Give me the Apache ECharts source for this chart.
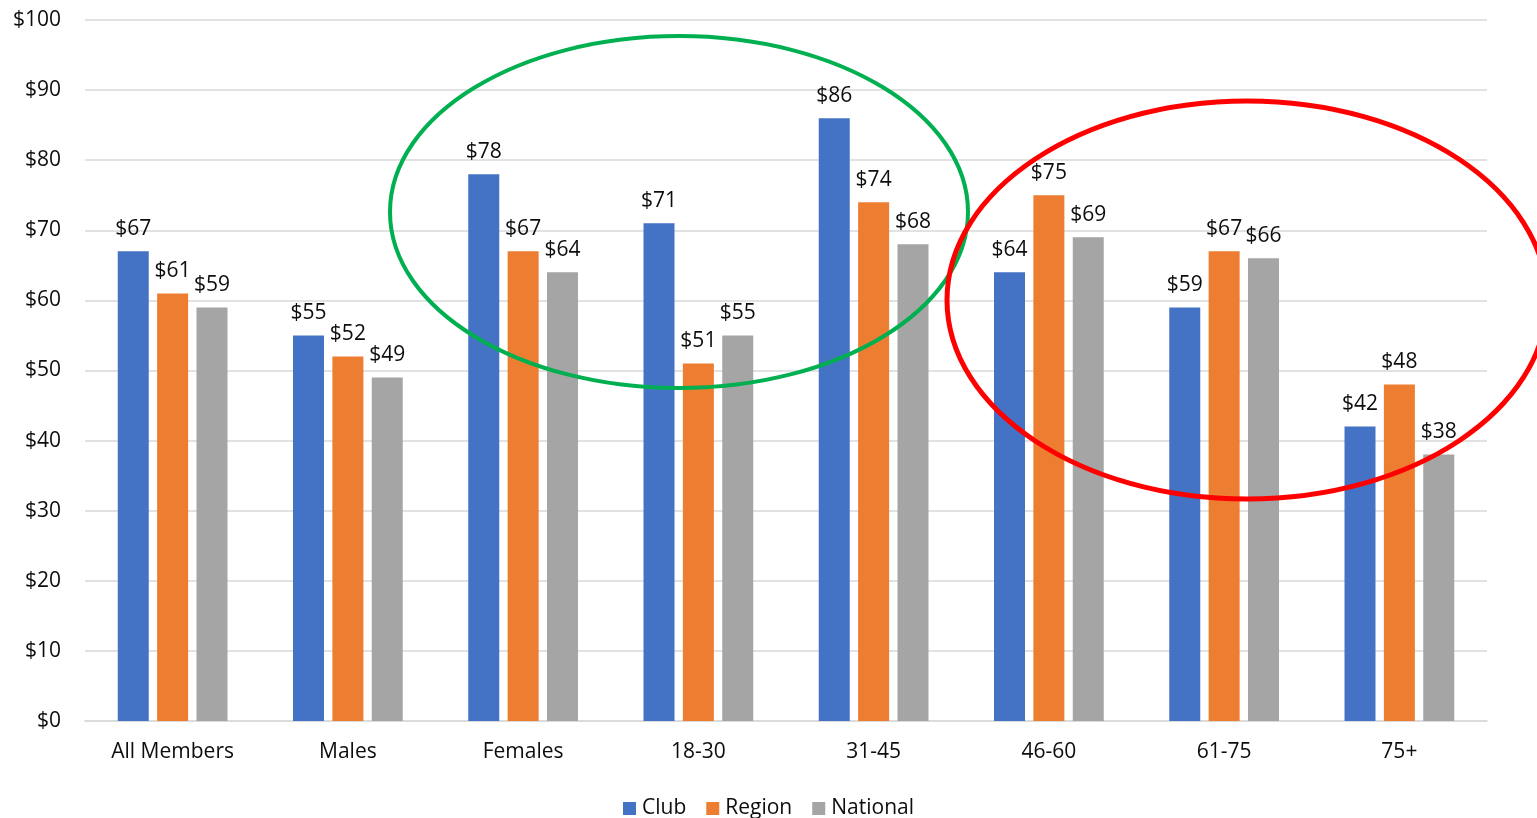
<!DOCTYPE html>
<html>
<head>
<meta charset="utf-8">
<script src="https://cdn.jsdelivr.net/npm/echarts@6/dist/echarts.min.js"></script>
<style>
  html, body { margin: 0; padding: 0; background: #fff; }
  #chart { width: 1537px; height: 818px; }
</style>
</head>
<body>
<div id="chart"></div>
<script>
// Average spend per member, by segment
const categories = ['All Members', 'Males', 'Females', '18-30', '31-45', '46-60', '61-75', '75+'];
const clubValues = [67, 55, 78, 71, 86, 64, 59, 42];
const regionValues = [61, 52, 67, 51, 74, 75, 67, 48];
const nationalValues = [59, 49, 64, 55, 68, 69, 66, 38];
const yTicks = { min: 0, max: 100, interval: 10 };

const FONT = '"Open Sans", "Noto Sans", sans-serif';
const TEXT = '#0d0d0d';
const SIZE = 21;

function barSeries(name, data, color) {
  return {
    name: name,
    type: 'bar',
    data: data,
    barWidth: 31,
    barGap: '27%',
    itemStyle: { color: color },
    label: {
      show: true,
      position: 'top',
      distance: 12,
      formatter: p => '$' + p.value,
      color: TEXT,
      fontFamily: FONT,
      fontSize: SIZE
    },
    emphasis: { disabled: true }
  };
}

const chart = echarts.init(document.getElementById('chart'), null, { renderer: 'canvas' });
chart.setOption({
  animation: false,
  backgroundColor: '#fff',
  grid: { left: 85, right: 50, top: 20, bottom: 97, containLabel: false },
  legend: {
    left: 'center',
    top: 793,
    itemWidth: 13,
    itemHeight: 13,
    itemGap: 20,
    icon: 'rect',
    textStyle: { color: TEXT, fontFamily: FONT, fontSize: SIZE, padding: [0, 0, 0, 1] },
    data: ['Club', 'Region', 'National']
  },
  xAxis: {
    type: 'category',
    data: categories,
    axisTick: { show: false },
    axisLine: { lineStyle: { color: '#D9D9D9', width: 1.5 } },
    axisLabel: { color: TEXT, fontFamily: FONT, fontSize: SIZE, margin: 21 }
  },
  yAxis: {
    type: 'value',
    min: yTicks.min,
    max: yTicks.max,
    interval: yTicks.interval,
    axisLine: { show: false },
    axisTick: { show: false },
    splitLine: { lineStyle: { color: '#D9D9D9', width: 1.5 } },
    axisLabel: { color: TEXT, fontFamily: FONT, fontSize: SIZE, margin: 24, formatter: v => '$' + v }
  },
  series: [
    barSeries('Club', clubValues, '#4472C4'),
    barSeries('Region', regionValues, '#ED7D31'),
    barSeries('National', nationalValues, '#A5A5A5')
  ],
  graphic: [
    {
      type: 'ellipse',
      shape: { cx: 679, cy: 212, rx: 289, ry: 176 },
      style: { fill: 'none', stroke: '#00B050', lineWidth: 4 },
      z: 100
    },
    {
      type: 'ellipse',
      shape: { cx: 1247, cy: 300, rx: 300, ry: 199 },
      style: { fill: 'none', stroke: '#FF0000', lineWidth: 5 },
      z: 100
    }
  ]
});
</script>
</body>
</html>
